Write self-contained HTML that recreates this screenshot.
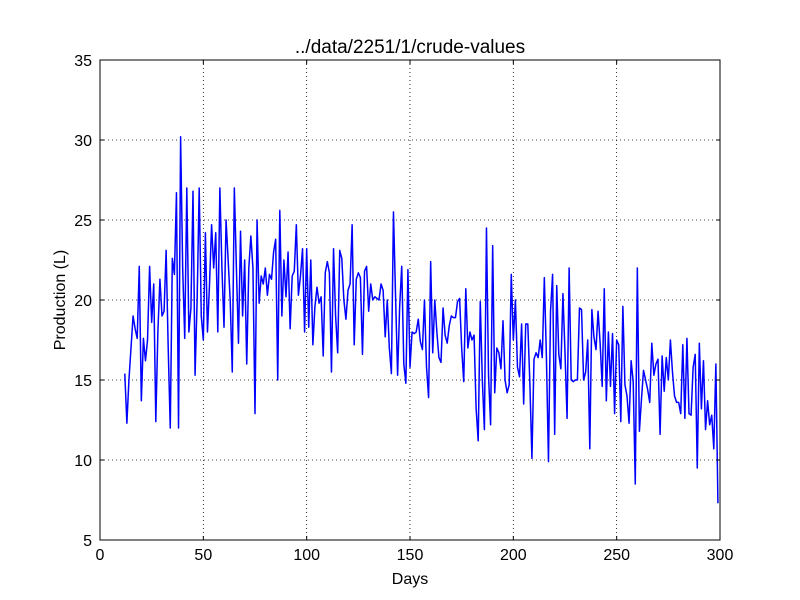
<!DOCTYPE html>
<html><head><meta charset="utf-8"><style>
body{margin:0;background:#fff}
svg{display:block;font-family:"Liberation Sans",sans-serif}
</style></head><body>
<svg id="chart" width="800" height="600"></svg>
<script>
const startDay = 12;
const production = [15.4,12.3,15,17,19,18.2,17.6,22.1,13.7,17.6,16.2,17.5,22.1,18.6,21,12.4,18,21.3,19,19.3,23.1,17,12,22.6,21.6,26.7,12,30.2,22,17.6,27,18,19.5,26.8,15.3,20,27,19,17.5,24.2,18,21,24.7,22,24.2,18,27,22,18.3,25,22.5,20,15.5,27,22,17.3,24.3,19,22.5,16,22,24,22,12.9,25,19.8,21.5,21,22,20.3,21.6,21.3,23,23.8,15,25.6,19,22.5,20.2,23,18.2,21.5,21.8,24.7,20.3,21.5,23.2,18,23.2,18.3,22.5,17.2,19.6,20.8,19.8,20.2,16.5,21.7,22.4,21.7,15.5,23.2,19,16.7,23.1,22.6,20,18.8,20.6,21,24.7,17.2,21.3,21.7,21.4,16.6,21.8,22.1,19.3,21,20,20.2,20.1,20,21,20.6,17.7,20,17,15.4,25.5,20.3,15.3,19.6,22.1,16,14.8,21.9,15.8,18,17.9,18,18.8,17.4,16.9,20,15.8,13.9,22.4,16.7,20,18,16.4,16.1,19.5,17.8,17.3,18.4,19,18.9,18.9,19.9,20.1,17,14.9,20.7,17,18,17.5,17.8,13.2,11.2,19.9,15,11.9,24.5,15.3,12.2,23.4,14.2,17,16.7,15.7,18.7,15,14.2,14.7,21.6,17.5,20,15.8,15.2,18.5,13.5,18.5,18.5,14.8,10.1,16.3,16.7,16.4,17.5,16.4,21.4,16.5,9.9,19.3,21.6,11.6,20.9,16.6,15.7,20.4,16.7,12.6,22,15,14.9,15,15,19.5,19.4,15,15.5,17.5,10.7,19.4,17.7,16.9,19.3,17.3,14.6,20.7,13.7,18,14.6,17.9,12.9,17.5,17.2,12.4,19.6,14.7,14,12.3,16.2,14.9,8.5,22,11.8,13.8,15.6,15,14.4,13.6,17.3,15.3,16,16.3,11.6,16.5,14.3,16.4,15,17.5,15.5,14,13.6,13.6,12.9,17.2,12.6,17.6,12.9,12.8,15.8,16.6,9.5,17.3,13.2,16.2,11.9,13.7,12.2,12.8,10.7,16,7.3];
const xTicks = [0,50,100,150,200,250,300];
const yTicks = [5,10,15,20,25,30,35];

const NS="http://www.w3.org/2000/svg";
const svg=document.getElementById('chart');
const L=100,R=720,T=60,B=540;
const xs=v=>L+(v-0)/(300-0)*(R-L);
const ys=v=>B-(v-5)/(35-5)*(B-T);
function mk(tag,attrs,parent){const e=document.createElementNS(NS,tag);for(const k in attrs)e.setAttribute(k,attrs[k]);(parent||svg).appendChild(e);return e;}

const grid=mk('g',{});


xTicks.forEach(t=>{if(t>0&&t<300)mk('line',{x1:xs(t),x2:xs(t),y1:T,y2:B,stroke:'#000','stroke-width':0.8,'stroke-dasharray':'1,3'},grid);});
yTicks.forEach(t=>{if(t>5&&t<35)mk('line',{x1:L,x2:R,y1:ys(t),y2:ys(t),stroke:'#000','stroke-width':0.8,'stroke-dasharray':'1,3'},grid);});

let d='';
production.forEach((v,i)=>{d+=(i?'L':'M')+xs(startDay+i).toFixed(2)+','+ys(v).toFixed(2);});
const line=mk('path',{d:d,fill:'none',stroke:'#0000ff','stroke-width':1.5,'stroke-linejoin':'round'});



const frame=mk('rect',{x:L,y:T,width:R-L,height:B-T,fill:'none',stroke:'#000','stroke-width':1});



xTicks.forEach(t=>{
  mk('line',{x1:xs(t),x2:xs(t),y1:B,y2:B-4,stroke:'#000'});
  mk('line',{x1:xs(t),x2:xs(t),y1:T,y2:T+4,stroke:'#000'});
  const tx=mk('text',{x:xs(t),y:B+20,'text-anchor':'middle','font-size':16});
  tx.textContent=t;
  
  
});
yTicks.forEach(t=>{
  mk('line',{x1:L,x2:L+4,y1:ys(t),y2:ys(t),stroke:'#000'});
  mk('line',{x1:R,x2:R-4,y1:ys(t),y2:ys(t),stroke:'#000'});
  const tx=mk('text',{x:L-8,y:ys(t)+6,'text-anchor':'end','font-size':16});
  tx.textContent=t;
  
  
});
</script>
<svg style="position:absolute;left:0;top:0" width="800" height="600">
<text x="410" y="53" text-anchor="middle" font-size="19" font-family="Liberation Sans, sans-serif">../data/2251/1/crude-values</text>
<text x="410" y="584" text-anchor="middle" font-size="16" font-family="Liberation Sans, sans-serif">Days</text>
<text x="65" y="300" text-anchor="middle" font-size="16" font-family="Liberation Sans, sans-serif" transform="rotate(-90 65 300)">Production (L)</text>
</svg>
</body></html>
